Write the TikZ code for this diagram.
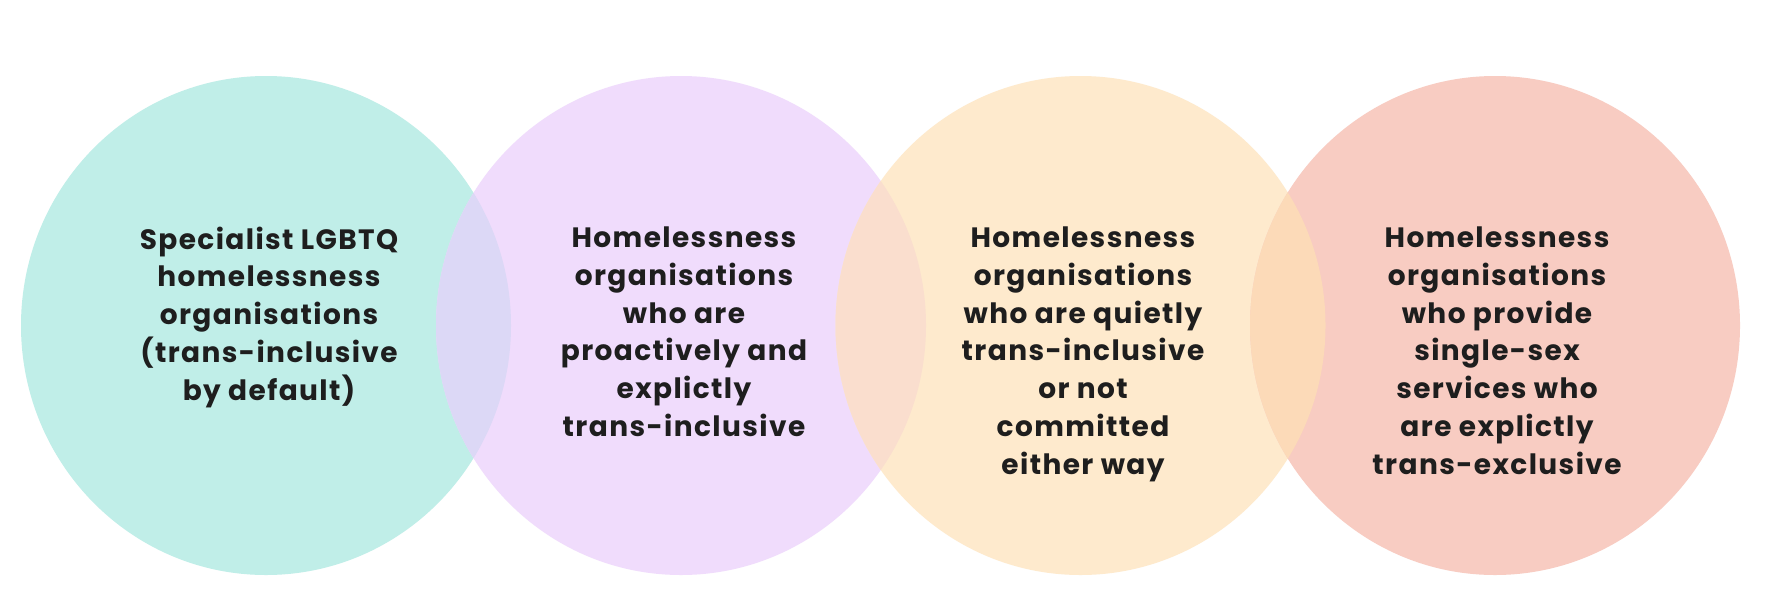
\documentclass[tikz,border=0pt]{standalone}
\usepackage{fontspec}
\setmainfont{Poppins}[LetterSpace=5]
\definecolor{cteal}{RGB}{192,238,232}
\definecolor{cpurple}{RGB}{240,220,252}
\definecolor{corange}{RGB}{254,234,205}
\definecolor{csalmon}{RGB}{248,204,194}
\definecolor{cov12}{RGB}{220,216,246}
\definecolor{cov23}{RGB}{250,222,206}
\definecolor{cov34}{RGB}{252,218,184}
\definecolor{ctext}{RGB}{30,30,30}
\tikzset{
  label text/.style={anchor=north, align=center, inner sep=0pt, text=ctext,
    font=\fontsize{28}{37.8}\selectfont\bfseries},
  blob/.style={x radius=245pt, y radius=249.5pt}
}
\begin{document}
\begin{tikzpicture}[x=1pt,y=-1pt]
\useasboundingbox (0,0) rectangle (1787,600);
\fill[white] (0,0) rectangle (1787,600);
% circles
\fill[cteal]   (266,325.5) ellipse [blob];
\fill[cpurple] (681,325.5) ellipse [blob];
\fill[corange] (1080.5,325.5) ellipse [blob];
\fill[csalmon] (1495,325.5) ellipse [blob];
% overlaps
\begin{scope}
  \clip (266,325.5) ellipse [blob];
  \fill[cov12] (681,325.5) ellipse [blob];
\end{scope}
\begin{scope}
  \clip (681,325.5) ellipse [blob];
  \fill[cov23] (1080.5,325.5) ellipse [blob];
\end{scope}
\begin{scope}
  \clip (1080.5,325.5) ellipse [blob];
  \fill[cov34] (1495,325.5) ellipse [blob];
\end{scope}
% texts
\node[label text] (t1) at (269,226.5) {Specialist LGBTQ\\homelessness\\organisations\\(trans-inclusive\\by default)};
\node[label text] (t2) at (684,226.5) {Homelessness\\organisations\\who are\\proactively and\\explictly\\trans-inclusive};
\node[label text] (t3) at (1083,226.5) {Homelessness\\organisations\\who are quietly\\trans-inclusive\\or not\\committed\\either way};
\node[label text] (t4) at (1497,226.5) {Homelessness\\organisations\\who provide\\single-sex\\services who\\are explictly\\trans-exclusive};
\end{tikzpicture}
\end{document}
